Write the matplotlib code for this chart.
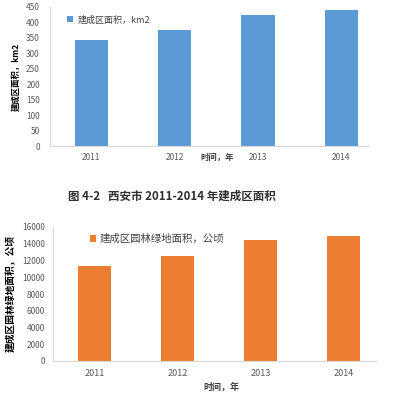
import matplotlib
matplotlib.use("Agg")
import matplotlib.pyplot as plt

plt.rcParams['font.family'] = ['Noto Sans CJK SC', 'DejaVu Sans']

# --- data ---------------------------------------------------------------------
years = ["2011", "2012", "2013", "2014"]
built_area = [342, 375, 423, 440]              # km2
green_area = [11300, 12500, 14400, 14950]      # 公顷

BLUE = "#5B9BD5"
ORANGE = "#ED7D31"
TICK_C = "#595959"
LINE_C = "#D9D9D9"

W, H = 400, 395
fig = plt.figure(figsize=(4.0, 3.95), dpi=100)


def px_axes(x0, y0, x1, y1):
    # pixel box (top-left origin) -> figure fraction
    return fig.add_axes([x0 / W, 1 - y1 / H, (x1 - x0) / W, (y1 - y0) / H])


def style(ax):
    for s in ["top", "right"]:
        ax.spines[s].set_visible(False)
    ax.spines["left"].set_color(LINE_C)
    ax.spines["bottom"].set_color(LINE_C)
    ax.tick_params(length=0, colors=TICK_C)


# --- top chart ------------------------------------------------------------------
ax1 = px_axes(49.6, 7, 368, 146)
x = range(len(years))
ax1.bar(x, built_area, width=0.4, color=BLUE, label="建成区面积，km2")
ax1.set_xlim(-0.5, 3.32)
ax1.set_ylim(0, 450)
ax1.set_yticks(range(0, 451, 50))
ax1.set_xticks(list(x))
ax1.set_xticklabels(years)
style(ax1)
ax1.tick_params(axis="y", labelsize=6, pad=7)
ax1.tick_params(axis="x", labelsize=6, pad=5)
ax1.set_ylabel("建成区面积，km2", fontsize=6, fontweight="bold", labelpad=4)
ax1.legend(loc="upper left", bbox_to_anchor=(0.03, 1.0), frameon=False,
           fontsize=6.5, handlelength=0.6, handleheight=0.6, handletextpad=0.5,
           labelcolor="#404040")
fig.text(217 / W, 1 - 157 / H, "时间，年", fontsize=6, fontweight="bold",
         ha="center", va="center", color="#404040")

# caption between the two charts
fig.text(172 / W, 1 - 196 / H, "图 4-2   西安市 2011-2014 年建成区面积",
         fontsize=8.3, fontweight="bold", ha="center", va="center", color="#303030")

# --- bottom chart ---------------------------------------------------------------
ax2 = px_axes(53, 227, 376, 361)
ax2.bar(x, green_area, width=0.4, color=ORANGE, label="建成区园林绿地面积，公顷")
ax2.set_xlim(-0.5, 3.39)
ax2.set_ylim(0, 16000)
ax2.set_yticks(range(0, 16001, 2000))
ax2.set_xticks(list(x))
ax2.set_xticklabels(years)
style(ax2)
ax2.tick_params(axis="y", labelsize=6, pad=6)
ax2.tick_params(axis="x", labelsize=6.5, pad=6)
ax2.set_ylabel("建成区园林绿地面积，公顷", fontsize=7, fontweight="bold", labelpad=4)
ax2.legend(loc="upper left", bbox_to_anchor=(0.085, 1.02), frameon=False,
           fontsize=7.5, handlelength=0.6, handleheight=0.6, handletextpad=0.3,
           labelcolor="#404040")
fig.text(221 / W, 1 - 387 / H, "时间，年", fontsize=6.5, fontweight="bold",
         ha="center", va="center", color="#404040")

fig.savefig("out.png", dpi=100)
